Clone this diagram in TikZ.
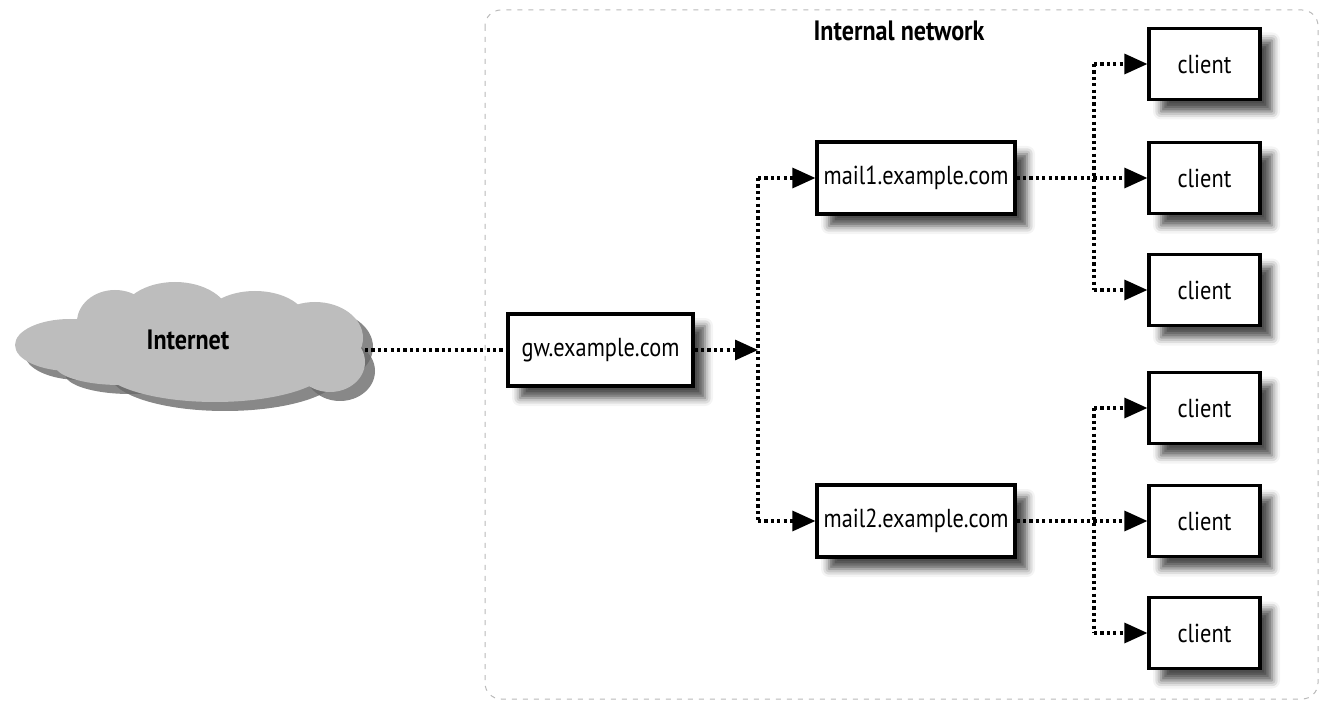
\documentclass[tikz,border=0pt]{standalone}
\usepackage{fontspec}
\setmainfont[FakeStretch=0.86]{PT Sans}
\usetikzlibrary{arrows.meta,shadows.blur}
\definecolor{cloudgray}{HTML}{BDBDBD}
\definecolor{cloudshadow}{HTML}{6A6A6A}
\tikzset{
  hostbox/.style={draw=black, line width=1.6pt, fill=white, inner sep=0pt,
    minimum height=36pt, font=\fontsize{13}{15}\selectfont,
    blur shadow={shadow xshift=6pt, shadow yshift=-6pt, shadow blur radius=4pt, shadow opacity=70}},
  gwbox/.style={hostbox, minimum width=92.5pt},
  mailbox/.style={hostbox, minimum width=99pt},
  clientbox/.style={hostbox, minimum width=55.5pt, minimum height=35.5pt},
  dotline/.style={line width=1.6pt, dash pattern=on 1.6pt off 1.6pt},
  arr/.style={dotline, -{Triangle[length=11.5pt,width=10pt]}},
  frame/.style={gray!55, line width=0.5pt, dash pattern=on 2.5pt off 3pt, rounded corners=8pt},
  boldlabel/.style={font=\bfseries\fontsize{14}{16}\selectfont},
}
\begin{document}
\begin{tikzpicture}[x=0.5pt,y=-0.5pt]
\useasboundingbox (0,0) rectangle (1323,705);
% internal network frame
\draw[frame] (485,10) rectangle (1318,699);
\node[boldlabel] (title) at (899,31) {Internal network};
% cloud shadow
\begin{scope}[shift={(10,9)}, fill=cloudshadow, opacity=0.8]
  \fill (70,345) ellipse [x radius=55, y radius=26];
  \fill (115,322) ellipse [x radius=38, y radius=32];
  \fill (175,318) ellipse [x radius=55, y radius=36];
  \fill (255,322) ellipse [x radius=52, y radius=31];
  \fill (315,338) ellipse [x radius=48, y radius=36];
  \fill (330,362) ellipse [x radius=35, y radius=30];
  \fill (215,365) ellipse [x radius=115, y radius=37];
  \fill (120,365) ellipse [x radius=65, y radius=20];
\end{scope}
% cloud
\begin{scope}[fill=cloudgray]
  \fill (70,345) ellipse [x radius=55, y radius=26];
  \fill (115,322) ellipse [x radius=38, y radius=32];
  \fill (175,318) ellipse [x radius=55, y radius=36];
  \fill (255,322) ellipse [x radius=52, y radius=31];
  \fill (315,338) ellipse [x radius=48, y radius=36];
  \fill (330,362) ellipse [x radius=35, y radius=30];
  \fill (215,365) ellipse [x radius=115, y radius=37];
  \fill (120,365) ellipse [x radius=65, y radius=20];
\end{scope}
\node[boldlabel] (inet) at (188,340) {Internet};
\coordinate (cloudR) at (365,350);
% hosts
\node[gwbox] (gw) at (600.5,350) {gw.example.com};
\node[mailbox] (mail1) at (916,178) {mail1.example.com};
\node[mailbox] (mail2) at (916,521) {mail2.example.com};
\node[clientbox] (c1) at (1204.5,64) {client};
\node[clientbox] (c2) at (1204.5,178) {client};
\node[clientbox] (c3) at (1204.5,290) {client};
\node[clientbox] (c4) at (1204.5,408) {client};
\node[clientbox] (c5) at (1204.5,521) {client};
\node[clientbox] (c6) at (1204.5,633) {client};
% junctions
\coordinate (j0) at (758,350);
\coordinate (j0t) at (758,178);
\coordinate (j0b) at (758,521);
\coordinate (j1t) at (1094,64);
\coordinate (j1b) at (1094,290);
\coordinate (j2t) at (1094,408);
\coordinate (j2b) at (1094,633);
% connectors
\draw[dotline] (cloudR) -- (gw.west);
\draw[arr] (gw.east) -- (j0);
\draw[dotline] (j0t) -- (j0b);
\draw[arr] (j0t) -- (mail1.west);
\draw[arr] (j0b) -- (mail2.west);
\draw[dotline] (j1t) -- (j1b);
\draw[arr] (mail1.east) -- (c2.west);
\draw[arr] (j1t) -- (c1.west);
\draw[arr] (j1b) -- (c3.west);
\draw[dotline] (j2t) -- (j2b);
\draw[arr] (mail2.east) -- (c5.west);
\draw[arr] (j2t) -- (c4.west);
\draw[arr] (j2b) -- (c6.west);
\end{tikzpicture}
\end{document}
